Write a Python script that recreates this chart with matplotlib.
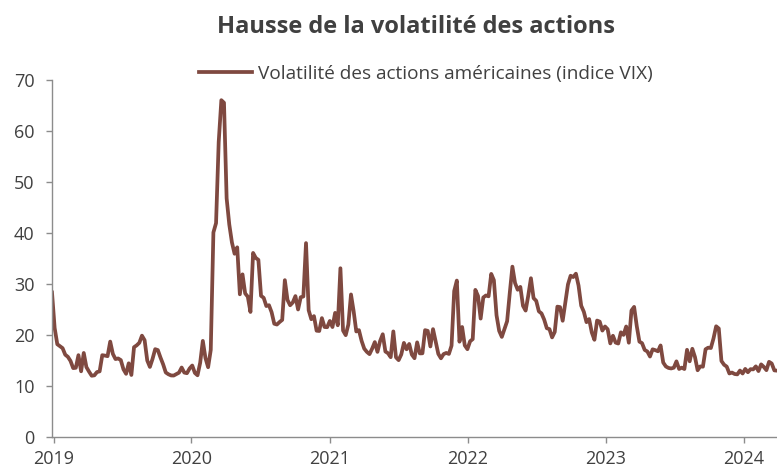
import matplotlib
matplotlib.use("Agg")
import matplotlib.pyplot as plt
import matplotlib.dates as mdates
import pandas as pd

start_date = "2018-12-28"
vix_2018 = [28.34]
vix_2019 = [21.38, 18.19, 17.80, 17.42, 16.14, 15.72, 14.91, 13.51, 13.57, 16.05, 12.88, 16.48, 13.71,
            12.82, 12.01, 12.09, 12.73, 12.87, 16.04, 15.96, 15.85, 18.71, 16.30, 15.28, 15.40, 15.08,
            13.28, 12.39, 14.45, 12.16, 17.61, 17.97, 18.47, 19.87, 18.98, 15.00, 13.74, 15.32, 17.22,
            17.04, 15.58, 14.25, 12.65, 12.30, 12.07, 12.05, 12.34, 12.62, 13.62, 12.63, 12.51, 13.43]
vix_2020 = [14.02, 12.56, 12.10, 14.56, 18.84, 15.47, 13.68, 17.08, 40.11, 41.94, 57.83, 66.04, 65.54,
            46.80, 41.67, 38.15, 35.93, 37.19, 27.98, 31.89, 28.16, 27.51, 24.52, 36.09, 35.12, 34.73,
            27.68, 27.29, 25.68, 25.84, 24.46, 22.21, 22.05, 22.54, 22.96, 30.75, 26.87, 25.83, 26.38,
            27.63, 25.00, 27.41, 27.55, 38.02, 24.86, 23.10, 23.70, 20.84, 20.79, 23.31, 21.57, 21.53, 22.75]
vix_2021 = [21.56, 24.34, 21.91, 33.09, 20.87, 19.97, 22.05, 27.95, 24.66, 20.69, 20.95, 18.86, 17.33,
            16.69, 16.25, 17.33, 18.61, 16.69, 18.81, 20.15, 16.76, 16.42, 15.65, 20.70, 15.62, 15.07,
            16.18, 18.45, 17.20, 18.24, 16.15, 15.45, 18.56, 16.39, 16.41, 20.95, 20.81, 17.75, 21.15,
            18.77, 16.30, 15.43, 16.26, 16.48, 16.29, 17.91, 28.62, 30.67, 18.69, 21.57, 17.96, 17.22]
vix_2022 = [18.76, 19.19, 28.85, 27.66, 23.22, 27.36, 27.75, 27.59, 31.98, 30.75, 23.87, 20.81, 19.63,
            21.16, 22.70, 28.21, 33.40, 30.19, 28.87, 29.43, 25.72, 24.79, 27.75, 31.13, 27.23, 26.70,
            24.64, 24.23, 23.03, 21.33, 21.15, 19.53, 20.60, 25.56, 25.47, 22.79, 26.30, 29.92, 31.62,
            31.36, 32.02, 29.69, 25.75, 24.55, 22.52, 23.12, 20.50, 19.06, 22.83, 22.62, 20.87, 21.67]
vix_2023 = [21.13, 18.35, 19.85, 18.51, 18.33, 20.53, 20.02, 21.67, 18.49, 24.80, 25.51, 21.74, 18.70,
            18.40, 17.07, 16.77, 15.78, 17.19, 17.03, 16.81, 17.95, 14.60, 13.83, 13.54, 13.44, 13.59,
            14.83, 13.34, 13.60, 13.33, 17.10, 14.84, 17.30, 15.68, 13.09, 13.84, 13.79, 17.20, 17.52,
            17.45, 19.32, 21.71, 21.27, 14.91, 14.17, 13.80, 12.46, 12.63, 12.35, 12.28, 13.03, 12.45]
vix_2024 = [13.35, 12.70, 13.30, 13.26, 13.85, 12.93, 14.24, 13.75, 13.11, 14.74, 14.41, 13.06, 13.01]

values = vix_2018 + vix_2019 + vix_2020 + vix_2021 + vix_2022 + vix_2023 + vix_2024
dates = pd.date_range(start_date, periods=len(values), freq="W-FRI")

title = "Hausse de la volatilité des actions"
series_label = "Volatilité des actions américaines (indice VIX)"
y_ticks = [0, 10, 20, 30, 40, 50, 60, 70]

plt.rcParams["font.family"] = ["Open Sans", "DejaVu Sans"]
text_color = "#404040"
line_color = "#7f4940"
spine_color = "#8c8c8c"

fig = plt.figure(figsize=(7.77, 4.72), dpi=100)
ax = fig.add_axes([52 / 777, 35 / 472, 725 / 777, (437 - 80) / 472])

ax.plot(dates, values, color=line_color, lw=2.7, solid_joinstyle="round", label=series_label)

ax.set_ylim(0, 70)
ax.set_yticks(y_ticks)
ax.set_xlim(pd.Timestamp(start_date), dates[-1])
ax.xaxis.set_major_locator(mdates.YearLocator())
ax.xaxis.set_major_formatter(mdates.DateFormatter("%Y"))

for s in ["top", "right"]:
    ax.spines[s].set_visible(False)
for s in ["left", "bottom"]:
    ax.spines[s].set_color(spine_color)
    ax.spines[s].set_linewidth(1.0)
ax.tick_params(axis="both", colors=spine_color, length=4.5, width=1.0,
               labelsize=13, labelcolor=text_color)
ax.tick_params(axis="y", pad=8)
ax.tick_params(axis="x", pad=5)
ax.set_clip_on(False)

fig.text(0.536, 1 - 33 / 472, title, ha="center", va="baseline", fontsize=17,
         fontweight="bold", color=text_color)
leg = ax.legend(loc="center", frameon=False, fontsize=13.7,
                handlelength=2.8, handletextpad=0.3, borderaxespad=0, borderpad=0)
for t in leg.get_texts():
    t.set_color(text_color)
leg.set_bbox_to_anchor((426 / 777, 1 - 74 / 472), transform=fig.transFigure)

fig.savefig("out.png", dpi=100)
